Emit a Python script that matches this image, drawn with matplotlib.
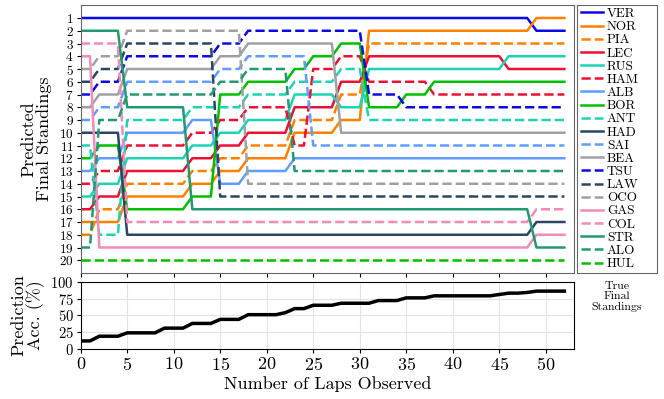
import numpy as np
import matplotlib.pyplot as plt

plt.rcParams['font.family'] = 'serif'
plt.rcParams['font.serif'] = ['cmr10']
plt.rcParams['mathtext.fontset'] = 'cm'
plt.rcParams['axes.formatter.use_mathtext'] = True

# drivers in true final order, with team colours and line styles
drivers = ['VER', 'NOR', 'PIA', 'LEC', 'RUS', 'HAM', 'ALB', 'BOR', 'ANT', 'HAD',
           'SAI', 'BEA', 'TSU', 'LAW', 'OCO', 'GAS', 'COL', 'STR', 'ALO', 'HUL']
colors = ['#0a0ae6', '#ff8000', '#ff8000', '#ec1133', '#1cd3b4', '#ec1133',
          '#5f9dff', '#00c000', '#1cd3b4', '#2b4562', '#5f9dff', '#9fa2a5',
          '#0a0ae6', '#2b4562', '#9fa2a5', '#f28bba', '#f28bba', '#229971',
          '#229971', '#00c000']
styles = ['-', '-', '--', '-', '-', '--', '-', '-', '--', '-',
          '--', '-', '--', '--', '--', '-', '--', '-', '--', '--']

laps = np.arange(53)

# predicted order (P1 .. P20) from each lap where it changes
seg_start = [0, 2, 5, 12, 15, 18, 23, 25, 28, 31, 35, 38, 46, 49]
order_0 = ['VER', 'STR', 'COL', 'GAS', 'OCO', 'LAW', 'TSU', 'BEA', 'SAI', 'HAD',
           'ANT', 'BOR', 'ALB', 'HAM', 'RUS', 'LEC', 'NOR', 'PIA', 'ALO', 'HUL']
order_2 = ['VER', 'STR', 'COL', 'OCO', 'LAW', 'TSU', 'BEA', 'SAI', 'ALO', 'HAD',
           'BOR', 'ALB', 'HAM', 'RUS', 'LEC', 'PIA', 'NOR', 'ANT', 'GAS', 'HUL']
order_5 = ['VER', 'OCO', 'LAW', 'TSU', 'BEA', 'SAI', 'ALO', 'STR', 'ANT', 'ALB',
           'HAM', 'RUS', 'LEC', 'PIA', 'NOR', 'BOR', 'COL', 'HAD', 'GAS', 'HUL']
order_12 = ['VER', 'OCO', 'LAW', 'TSU', 'BEA', 'SAI', 'ALO', 'ANT', 'ALB', 'HAM',
            'RUS', 'LEC', 'PIA', 'NOR', 'BOR', 'STR', 'COL', 'HAD', 'GAS', 'HUL']
order_15 = ['VER', 'OCO', 'TSU', 'BEA', 'SAI', 'ALO', 'BOR', 'ANT', 'HAM', 'RUS',
            'LEC', 'PIA', 'NOR', 'ALB', 'LAW', 'STR', 'COL', 'HAD', 'GAS', 'HUL']
order_18 = ['VER', 'TSU', 'BEA', 'SAI', 'ALO', 'BOR', 'ANT', 'HAM', 'RUS', 'LEC',
            'PIA', 'NOR', 'ALB', 'OCO', 'LAW', 'STR', 'COL', 'HAD', 'GAS', 'HUL']
order_23 = ['VER', 'TSU', 'BEA', 'SAI', 'BOR', 'ANT', 'RUS', 'LEC', 'PIA', 'NOR',
            'HAM', 'ALB', 'ALO', 'OCO', 'LAW', 'STR', 'COL', 'HAD', 'GAS', 'HUL']
order_25 = ['VER', 'TSU', 'BEA', 'BOR', 'HAM', 'ANT', 'RUS', 'LEC', 'PIA', 'NOR',
            'SAI', 'ALB', 'ALO', 'OCO', 'LAW', 'STR', 'COL', 'HAD', 'GAS', 'HUL']
order_28 = ['VER', 'TSU', 'BOR', 'HAM', 'ANT', 'LEC', 'PIA', 'RUS', 'NOR', 'BEA',
            'SAI', 'ALB', 'ALO', 'OCO', 'LAW', 'STR', 'COL', 'HAD', 'GAS', 'HUL']
order_31 = ['VER', 'NOR', 'PIA', 'LEC', 'RUS', 'HAM', 'TSU', 'BOR', 'ANT', 'BEA',
            'SAI', 'ALB', 'ALO', 'OCO', 'LAW', 'STR', 'COL', 'HAD', 'GAS', 'HUL']
order_35 = ['VER', 'NOR', 'PIA', 'LEC', 'RUS', 'HAM', 'BOR', 'TSU', 'ANT', 'BEA',
            'SAI', 'ALB', 'ALO', 'OCO', 'LAW', 'STR', 'COL', 'HAD', 'GAS', 'HUL']
order_38 = ['VER', 'NOR', 'PIA', 'LEC', 'RUS', 'BOR', 'HAM', 'TSU', 'ANT', 'BEA',
            'SAI', 'ALB', 'ALO', 'OCO', 'LAW', 'STR', 'COL', 'HAD', 'GAS', 'HUL']
order_46 = ['VER', 'NOR', 'PIA', 'RUS', 'LEC', 'BOR', 'HAM', 'TSU', 'ANT', 'BEA',
            'SAI', 'ALB', 'ALO', 'OCO', 'LAW', 'STR', 'COL', 'HAD', 'GAS', 'HUL']
order_49 = ['NOR', 'VER', 'PIA', 'RUS', 'LEC', 'BOR', 'HAM', 'TSU', 'ANT', 'BEA',
            'SAI', 'ALB', 'ALO', 'OCO', 'LAW', 'COL', 'HAD', 'GAS', 'STR', 'HUL']
orders = [order_0, order_2, order_5, order_12, order_15, order_18, order_23,
          order_25, order_28, order_31, order_35, order_38, order_46, order_49]

# prediction accuracy (%) per lap
accuracy = [12, 12, 19, 19, 19, 24, 24, 24, 24, 31, 31, 31, 38, 38, 38, 44, 44, 44,
            51, 51, 51, 51, 54, 60, 60, 65, 65, 65, 68, 68, 68, 68, 72, 72, 72,
            76, 76, 76, 79, 79, 79, 79, 79, 79, 79, 81, 83, 83, 84, 86, 86, 86, 86]

# position of each driver at each lap
positions = {d: np.zeros(len(laps)) for d in drivers}
bounds = seg_start + [len(laps)]
for i, order in enumerate(orders):
    for p, d in enumerate(order):
        positions[d][bounds[i]:bounds[i + 1]] = p + 1

fig = plt.figure(figsize=(6.64, 3.99), dpi=100)
W, H = 664, 399
ax1 = fig.add_axes([80.7 / W, 1 - 273 / H, 493 / W, 268 / H])
ax2 = fig.add_axes([80.7 / W, 1 - 349 / H, 493 / W, 67.3 / H])
axl = fig.add_axes([577.3 / W, 1 - 273 / H, 79.4 / W, 268 / H])

for d, c, ls in zip(drivers, colors, styles):
    ax1.plot(laps, positions[d], color=c, ls=ls, lw=1.8, label=d)

ax1.set_ylim(21, -0.02)
ax1.set_yticks(range(1, 21))
ax1.set_xlim(0, 53)
ax1.set_xticks(range(0, 55, 5))
ax1.tick_params(labelbottom=False, labelsize=9.5, length=3, pad=2)
ax1.set_ylabel('Predicted\nFinal Standings', fontsize=13, labelpad=5, linespacing=1.0)
for s in ax1.spines.values():
    s.set_color('#666666')

ax2.plot(laps, accuracy, color='black', lw=2.5)
ax2.set_xlim(0, 53)
ax2.set_ylim(0, 100)
ax2.set_xticks(range(0, 55, 5))
ax2.set_yticks([0, 25, 50, 75, 100])
ax2.grid(True, color='#e3e3e3', lw=0.8)
ax2.tick_params(labelsize=10.5, length=3, pad=2)
ax2.tick_params(axis='x', labelsize=13)
ax2.set_xlabel('Number of Laps Observed', fontsize=13, labelpad=2)
ax2.set_ylabel('Prediction\nAcc. (%)', fontsize=13, labelpad=4, linespacing=1.0)

axl.set_xticks([])
axl.set_yticks([])
for s in axl.spines.values():
    s.set_color('#666666')
handles, labels = ax1.get_legend_handles_labels()
axl.legend(handles, labels, loc='center left', bbox_to_anchor=(0.0, 0.5),
           frameon=False, fontsize=9.5, handlelength=1.65, handletextpad=0.3,
           labelspacing=0.07, borderpad=0.3, borderaxespad=0.0)
axl.set_xlabel('True\nFinal\nStandings', fontsize=8.5, labelpad=6, linespacing=1.1)

fig.savefig('out.png', dpi=100)
